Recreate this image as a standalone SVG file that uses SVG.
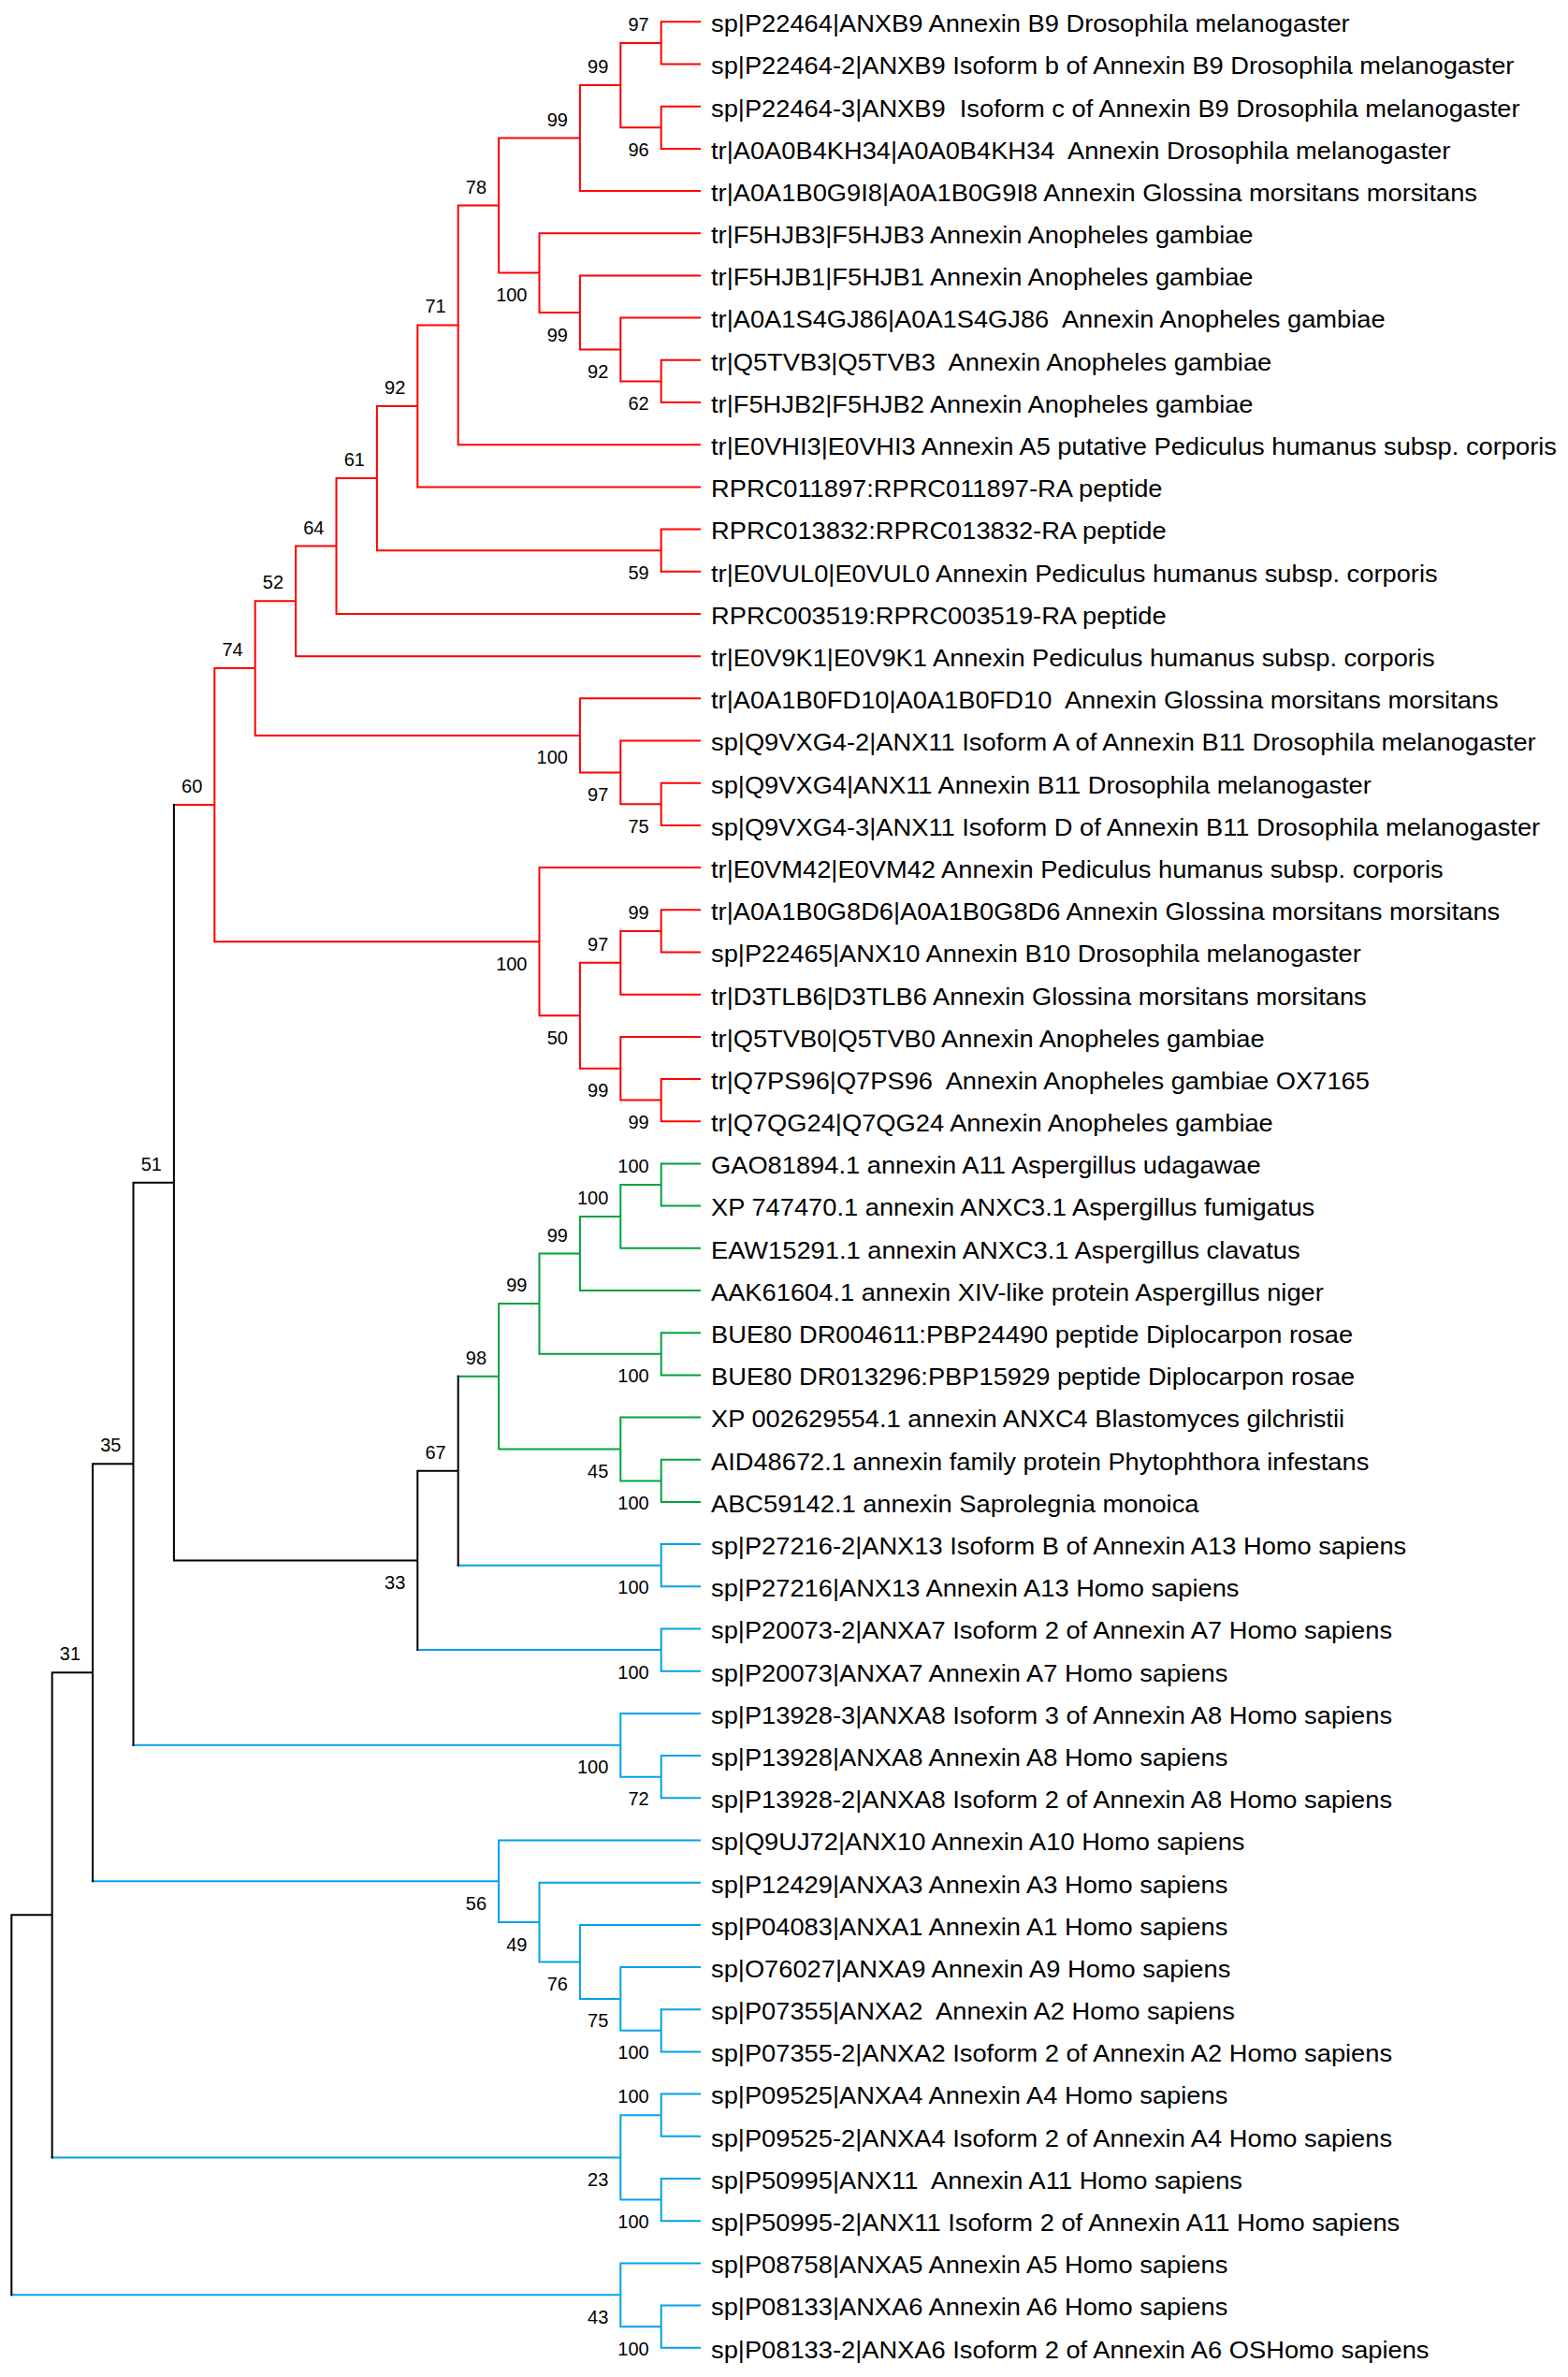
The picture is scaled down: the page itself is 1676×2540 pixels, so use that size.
<svg xmlns="http://www.w3.org/2000/svg" width="1676" height="2540" viewBox="0 0 1676 2540" xml:space="preserve">
<style>
.r{stroke:#ff0000}.g{stroke:#00a33c}.b{stroke:#00a2e8}.k{stroke:#000000}
#branches path{fill:none;stroke-width:2;stroke-linecap:square;stroke-linejoin:miter}
.lf{font-family:"Liberation Sans",Arial,sans-serif;font-size:25.5px;fill:#000;white-space:pre}
.bs{font-family:"Liberation Sans",Arial,sans-serif;font-size:20px;fill:#000;text-anchor:end}
</style>
<rect width="1676" height="2540" fill="#ffffff"/>
<g id="branches">
<path class="r" d="M748 23.3H706.7V68.5H748M748 113.7H706.7V158.9H748M706.7 45.9H663.3V136.3H706.7M663.3 91.1H619.9V204.1H748M748 384.8H706.7V430H748M748 339.6H663.3V407.4H706.7M748 294.4H619.9V373.5H663.3M748 249.3H576.5V334H619.9M619.9 147.6H533.1V291.6H576.5M533.1 219.6H489.7V475.2H748M489.7 347.4H446.3V520.4H748M748 565.6H706.7V610.8H748M446.3 433.9H402.9V588.2H706.7M402.9 511H359.5V656H748M359.5 583.5H316.1V701.2H748M748 836.7H706.7V881.9H748M748 791.5H663.3V859.3H706.7M748 746.3H619.9V825.4H663.3M316.1 642.3H272.7V785.9H619.9M748 972.3H706.7V1017.5H748M706.7 994.9H663.3V1062.7H748M748 1153.1H706.7V1198.2H748M748 1107.9H663.3V1175.6H706.7M663.3 1028.8H619.9V1141.8H663.3M748 927.1H576.5V1085.3H619.9M272.7 714.1H229.3V1006.2H576.5M185.9 860.1H229.3"/>
<path class="g" d="M748 1243.4H706.7V1288.6H748M706.7 1266H663.3V1333.8H748M663.3 1299.9H619.9V1379H748M748 1424.2H706.7V1469.4H748M619.9 1339.5H576.5V1446.8H706.7M748 1559.8H706.7V1605H748M748 1514.6H663.3V1582.4H706.7M576.5 1393.1H533.1V1548.5H663.3M489.7 1470.8H533.1"/>
<path class="b" d="M748 1650.1H706.7V1695.3H748M489.7 1672.7H706.7M748 1740.5H706.7V1785.7H748M446.3 1763.1H706.7M748 1876.1H706.7V1921.3H748M748 1830.9H663.3V1898.7H706.7M142.5 1864.8H663.3M748 2147.2H706.7V2192.4H748M748 2102H663.3V2169.8H706.7M748 2056.9H619.9V2135.9H663.3M748 2011.7H576.5V2096.4H619.9M748 1966.5H533.1V2054H576.5M99.1 2010.3H533.1M748 2237.6H706.7V2282.8H748M748 2328H706.7V2373.2H748M706.7 2260.2H663.3V2350.6H706.7M55.7 2305.4H663.3M748 2463.6H706.7V2508.8H748M748 2418.4H663.3V2486.2H706.7M12.3 2452.2H663.3"/>
<path class="k" d="M489.7 1470.8V1672.7M446.3 1571.8H489.7M446.3 1571.8V1763.1M185.9 1667.4H446.3M185.9 860.1V1667.4M142.5 1263.8H185.9M142.5 1263.8V1864.8M99.1 1564.3H142.5M99.1 1564.3V2010.3M55.7 1787.3H99.1M55.7 1787.3V2305.4M12.3 2046.3H55.7M12.3 2046.3V2452.2"/>
</g>
<g id="leaf-00"><text class="lf" xml:space="preserve" transform="translate(760 34.1) scale(1.07 1)">sp|P22464|ANXB9 Annexin B9 Drosophila melanogaster</text></g>
<g id="leaf-01"><text class="lf" xml:space="preserve" transform="translate(760 79.3) scale(1.07 1)">sp|P22464-2|ANXB9 Isoform b of Annexin B9 Drosophila melanogaster</text></g>
<g id="leaf-02"><text class="lf" xml:space="preserve" transform="translate(760 124.5) scale(1.07 1)">sp|P22464-3|ANXB9  Isoform c of Annexin B9 Drosophila melanogaster</text></g>
<g id="leaf-03"><text class="lf" xml:space="preserve" transform="translate(760 169.7) scale(1.07 1)">tr|A0A0B4KH34|A0A0B4KH34  Annexin Drosophila melanogaster</text></g>
<g id="leaf-04"><text class="lf" xml:space="preserve" transform="translate(760 214.9) scale(1.07 1)">tr|A0A1B0G9I8|A0A1B0G9I8 Annexin Glossina morsitans morsitans</text></g>
<g id="leaf-05"><text class="lf" xml:space="preserve" transform="translate(760 260.1) scale(1.07 1)">tr|F5HJB3|F5HJB3 Annexin Anopheles gambiae</text></g>
<g id="leaf-06"><text class="lf" xml:space="preserve" transform="translate(760 305.2) scale(1.07 1)">tr|F5HJB1|F5HJB1 Annexin Anopheles gambiae</text></g>
<g id="leaf-07"><text class="lf" xml:space="preserve" transform="translate(760 350.4) scale(1.07 1)">tr|A0A1S4GJ86|A0A1S4GJ86  Annexin Anopheles gambiae</text></g>
<g id="leaf-08"><text class="lf" xml:space="preserve" transform="translate(760 395.6) scale(1.07 1)">tr|Q5TVB3|Q5TVB3  Annexin Anopheles gambiae</text></g>
<g id="leaf-09"><text class="lf" xml:space="preserve" transform="translate(760 440.8) scale(1.07 1)">tr|F5HJB2|F5HJB2 Annexin Anopheles gambiae</text></g>
<g id="leaf-10"><text class="lf" xml:space="preserve" transform="translate(760 486) scale(1.07 1)">tr|E0VHI3|E0VHI3 Annexin A5 putative Pediculus humanus subsp. corporis</text></g>
<g id="leaf-11"><text class="lf" xml:space="preserve" transform="translate(760 531.2) scale(1.07 1)">RPRC011897:RPRC011897-RA peptide</text></g>
<g id="leaf-12"><text class="lf" xml:space="preserve" transform="translate(760 576.4) scale(1.07 1)">RPRC013832:RPRC013832-RA peptide</text></g>
<g id="leaf-13"><text class="lf" xml:space="preserve" transform="translate(760 621.6) scale(1.07 1)">tr|E0VUL0|E0VUL0 Annexin Pediculus humanus subsp. corporis</text></g>
<g id="leaf-14"><text class="lf" xml:space="preserve" transform="translate(760 666.8) scale(1.07 1)">RPRC003519:RPRC003519-RA peptide</text></g>
<g id="leaf-15"><text class="lf" xml:space="preserve" transform="translate(760 712) scale(1.07 1)">tr|E0V9K1|E0V9K1 Annexin Pediculus humanus subsp. corporis</text></g>
<g id="leaf-16"><text class="lf" xml:space="preserve" transform="translate(760 757.1) scale(1.07 1)">tr|A0A1B0FD10|A0A1B0FD10  Annexin Glossina morsitans morsitans</text></g>
<g id="leaf-17"><text class="lf" xml:space="preserve" transform="translate(760 802.3) scale(1.07 1)">sp|Q9VXG4-2|ANX11 Isoform A of Annexin B11 Drosophila melanogaster</text></g>
<g id="leaf-18"><text class="lf" xml:space="preserve" transform="translate(760 847.5) scale(1.07 1)">sp|Q9VXG4|ANX11 Annexin B11 Drosophila melanogaster</text></g>
<g id="leaf-19"><text class="lf" xml:space="preserve" transform="translate(760 892.7) scale(1.07 1)">sp|Q9VXG4-3|ANX11 Isoform D of Annexin B11 Drosophila melanogaster</text></g>
<g id="leaf-20"><text class="lf" xml:space="preserve" transform="translate(760 937.9) scale(1.07 1)">tr|E0VM42|E0VM42 Annexin Pediculus humanus subsp. corporis</text></g>
<g id="leaf-21"><text class="lf" xml:space="preserve" transform="translate(760 983.1) scale(1.07 1)">tr|A0A1B0G8D6|A0A1B0G8D6 Annexin Glossina morsitans morsitans</text></g>
<g id="leaf-22"><text class="lf" xml:space="preserve" transform="translate(760 1028.3) scale(1.07 1)">sp|P22465|ANX10 Annexin B10 Drosophila melanogaster</text></g>
<g id="leaf-23"><text class="lf" xml:space="preserve" transform="translate(760 1073.5) scale(1.07 1)">tr|D3TLB6|D3TLB6 Annexin Glossina morsitans morsitans</text></g>
<g id="leaf-24"><text class="lf" xml:space="preserve" transform="translate(760 1118.7) scale(1.07 1)">tr|Q5TVB0|Q5TVB0 Annexin Anopheles gambiae</text></g>
<g id="leaf-25"><text class="lf" xml:space="preserve" transform="translate(760 1163.9) scale(1.07 1)">tr|Q7PS96|Q7PS96  Annexin Anopheles gambiae OX7165</text></g>
<g id="leaf-26"><text class="lf" xml:space="preserve" transform="translate(760 1209) scale(1.07 1)">tr|Q7QG24|Q7QG24 Annexin Anopheles gambiae</text></g>
<g id="leaf-27"><text class="lf" xml:space="preserve" transform="translate(760 1254.2) scale(1.07 1)">GAO81894.1 annexin A11 Aspergillus udagawae</text></g>
<g id="leaf-28"><text class="lf" xml:space="preserve" transform="translate(760 1299.4) scale(1.07 1)">XP 747470.1 annexin ANXC3.1 Aspergillus fumigatus</text></g>
<g id="leaf-29"><text class="lf" xml:space="preserve" transform="translate(760 1344.6) scale(1.07 1)">EAW15291.1 annexin ANXC3.1 Aspergillus clavatus</text></g>
<g id="leaf-30"><text class="lf" xml:space="preserve" transform="translate(760 1389.8) scale(1.07 1)">AAK61604.1 annexin XIV-like protein Aspergillus niger</text></g>
<g id="leaf-31"><text class="lf" xml:space="preserve" transform="translate(760 1435) scale(1.07 1)">BUE80 DR004611:PBP24490 peptide Diplocarpon rosae</text></g>
<g id="leaf-32"><text class="lf" xml:space="preserve" transform="translate(760 1480.2) scale(1.07 1)">BUE80 DR013296:PBP15929 peptide Diplocarpon rosae</text></g>
<g id="leaf-33"><text class="lf" xml:space="preserve" transform="translate(760 1525.4) scale(1.07 1)">XP 002629554.1 annexin ANXC4 Blastomyces gilchristii</text></g>
<g id="leaf-34"><text class="lf" xml:space="preserve" transform="translate(760 1570.6) scale(1.07 1)">AID48672.1 annexin family protein Phytophthora infestans</text></g>
<g id="leaf-35"><text class="lf" xml:space="preserve" transform="translate(760 1615.8) scale(1.07 1)">ABC59142.1 annexin Saprolegnia monoica</text></g>
<g id="leaf-36"><text class="lf" xml:space="preserve" transform="translate(760 1660.9) scale(1.07 1)">sp|P27216-2|ANX13 Isoform B of Annexin A13 Homo sapiens</text></g>
<g id="leaf-37"><text class="lf" xml:space="preserve" transform="translate(760 1706.1) scale(1.07 1)">sp|P27216|ANX13 Annexin A13 Homo sapiens</text></g>
<g id="leaf-38"><text class="lf" xml:space="preserve" transform="translate(760 1751.3) scale(1.07 1)">sp|P20073-2|ANXA7 Isoform 2 of Annexin A7 Homo sapiens</text></g>
<g id="leaf-39"><text class="lf" xml:space="preserve" transform="translate(760 1796.5) scale(1.07 1)">sp|P20073|ANXA7 Annexin A7 Homo sapiens</text></g>
<g id="leaf-40"><text class="lf" xml:space="preserve" transform="translate(760 1841.7) scale(1.07 1)">sp|P13928-3|ANXA8 Isoform 3 of Annexin A8 Homo sapiens</text></g>
<g id="leaf-41"><text class="lf" xml:space="preserve" transform="translate(760 1886.9) scale(1.07 1)">sp|P13928|ANXA8 Annexin A8 Homo sapiens</text></g>
<g id="leaf-42"><text class="lf" xml:space="preserve" transform="translate(760 1932.1) scale(1.07 1)">sp|P13928-2|ANXA8 Isoform 2 of Annexin A8 Homo sapiens</text></g>
<g id="leaf-43"><text class="lf" xml:space="preserve" transform="translate(760 1977.3) scale(1.07 1)">sp|Q9UJ72|ANX10 Annexin A10 Homo sapiens</text></g>
<g id="leaf-44"><text class="lf" xml:space="preserve" transform="translate(760 2022.5) scale(1.07 1)">sp|P12429|ANXA3 Annexin A3 Homo sapiens</text></g>
<g id="leaf-45"><text class="lf" xml:space="preserve" transform="translate(760 2067.7) scale(1.07 1)">sp|P04083|ANXA1 Annexin A1 Homo sapiens</text></g>
<g id="leaf-46"><text class="lf" xml:space="preserve" transform="translate(760 2112.8) scale(1.07 1)">sp|O76027|ANXA9 Annexin A9 Homo sapiens</text></g>
<g id="leaf-47"><text class="lf" xml:space="preserve" transform="translate(760 2158) scale(1.07 1)">sp|P07355|ANXA2  Annexin A2 Homo sapiens</text></g>
<g id="leaf-48"><text class="lf" xml:space="preserve" transform="translate(760 2203.2) scale(1.07 1)">sp|P07355-2|ANXA2 Isoform 2 of Annexin A2 Homo sapiens</text></g>
<g id="leaf-49"><text class="lf" xml:space="preserve" transform="translate(760 2248.4) scale(1.07 1)">sp|P09525|ANXA4 Annexin A4 Homo sapiens</text></g>
<g id="leaf-50"><text class="lf" xml:space="preserve" transform="translate(760 2293.6) scale(1.07 1)">sp|P09525-2|ANXA4 Isoform 2 of Annexin A4 Homo sapiens</text></g>
<g id="leaf-51"><text class="lf" xml:space="preserve" transform="translate(760 2338.8) scale(1.07 1)">sp|P50995|ANX11  Annexin A11 Homo sapiens</text></g>
<g id="leaf-52"><text class="lf" xml:space="preserve" transform="translate(760 2384) scale(1.07 1)">sp|P50995-2|ANX11 Isoform 2 of Annexin A11 Homo sapiens</text></g>
<g id="leaf-53"><text class="lf" xml:space="preserve" transform="translate(760 2429.2) scale(1.07 1)">sp|P08758|ANXA5 Annexin A5 Homo sapiens</text></g>
<g id="leaf-54"><text class="lf" xml:space="preserve" transform="translate(760 2474.4) scale(1.07 1)">sp|P08133|ANXA6 Annexin A6 Homo sapiens</text></g>
<g id="leaf-55"><text class="lf" xml:space="preserve" transform="translate(760 2519.6) scale(1.07 1)">sp|P08133-2|ANXA6 Isoform 2 of Annexin A6 OSHomo sapiens</text></g>
<g id="node-A"><text class="bs" x="693.7" y="32.9">97</text></g>
<g id="node-B"><text class="bs" x="693.7" y="166.8">96</text></g>
<g id="node-C"><text class="bs" x="650.3" y="78.1">99</text></g>
<g id="node-D"><text class="bs" x="606.9" y="134.6">99</text></g>
<g id="node-E"><text class="bs" x="693.7" y="437.9">62</text></g>
<g id="node-F"><text class="bs" x="650.3" y="404">92</text></g>
<g id="node-G"><text class="bs" x="606.9" y="364.5">99</text></g>
<g id="node-H"><text class="bs" x="563.5" y="322.1">100</text></g>
<g id="node-I"><text class="bs" x="520.1" y="206.6">78</text></g>
<g id="node-J"><text class="bs" x="476.7" y="334.4">71</text></g>
<g id="node-K"><text class="bs" x="433.3" y="420.9">92</text></g>
<g id="node-M"><text class="bs" x="693.7" y="618.7">59</text></g>
<g id="node-N"><text class="bs" x="389.9" y="498">61</text></g>
<g id="node-O"><text class="bs" x="346.5" y="570.5">64</text></g>
<g id="node-P"><text class="bs" x="303.1" y="629.3">52</text></g>
<g id="node-Q"><text class="bs" x="693.7" y="889.8">75</text></g>
<g id="node-R"><text class="bs" x="650.3" y="855.9">97</text></g>
<g id="node-S"><text class="bs" x="606.9" y="816.4">100</text></g>
<g id="node-T"><text class="bs" x="259.7" y="701.1">74</text></g>
<g id="node-U"><text class="bs" x="693.7" y="981.9">99</text></g>
<g id="node-V"><text class="bs" x="650.3" y="1015.8">97</text></g>
<g id="node-W"><text class="bs" x="693.7" y="1206.1">99</text></g>
<g id="node-X"><text class="bs" x="650.3" y="1172.3">99</text></g>
<g id="node-Y"><text class="bs" x="606.9" y="1115.8">50</text></g>
<g id="node-Z"><text class="bs" x="563.5" y="1036.7">100</text></g>
<g id="node-AA"><text class="bs" x="216.3" y="847.1">60</text></g>
<g id="node-G1"><text class="bs" x="693.7" y="1253">100</text></g>
<g id="node-G2"><text class="bs" x="650.3" y="1286.9">100</text></g>
<g id="node-G3"><text class="bs" x="606.9" y="1326.5">99</text></g>
<g id="node-G4"><text class="bs" x="693.7" y="1477.3">100</text></g>
<g id="node-G5"><text class="bs" x="563.5" y="1380.1">99</text></g>
<g id="node-G6"><text class="bs" x="693.7" y="1612.9">100</text></g>
<g id="node-G7"><text class="bs" x="650.3" y="1579">45</text></g>
<g id="node-G8"><text class="bs" x="520.1" y="1457.8">98</text></g>
<g id="node-B1"><text class="bs" x="693.7" y="1703.2">100</text></g>
<g id="node-K1"><text class="bs" x="476.7" y="1558.8">67</text></g>
<g id="node-B2"><text class="bs" x="693.7" y="1793.6">100</text></g>
<g id="node-K2"><text class="bs" x="433.3" y="1697.9">33</text></g>
<g id="node-K3"><text class="bs" x="172.9" y="1250.8">51</text></g>
<g id="node-B3"><text class="bs" x="693.7" y="1929.2">72</text></g>
<g id="node-B4"><text class="bs" x="650.3" y="1895.3">100</text></g>
<g id="node-K4"><text class="bs" x="129.5" y="1551.3">35</text></g>
<g id="node-B5"><text class="bs" x="693.7" y="2200.3">100</text></g>
<g id="node-B6"><text class="bs" x="650.3" y="2166.4">75</text></g>
<g id="node-B7"><text class="bs" x="606.9" y="2126.9">76</text></g>
<g id="node-B8"><text class="bs" x="563.5" y="2084.5">49</text></g>
<g id="node-B9"><text class="bs" x="520.1" y="2040.8">56</text></g>
<g id="node-K5"><text class="bs" x="86.1" y="1774.3">31</text></g>
<g id="node-B10"><text class="bs" x="693.7" y="2247.2">100</text></g>
<g id="node-B11"><text class="bs" x="693.7" y="2381.1">100</text></g>
<g id="node-B12"><text class="bs" x="650.3" y="2335.9">23</text></g>
<g id="node-B13"><text class="bs" x="693.7" y="2516.7">100</text></g>
<g id="node-B14"><text class="bs" x="650.3" y="2482.7">43</text></g>
</svg>
